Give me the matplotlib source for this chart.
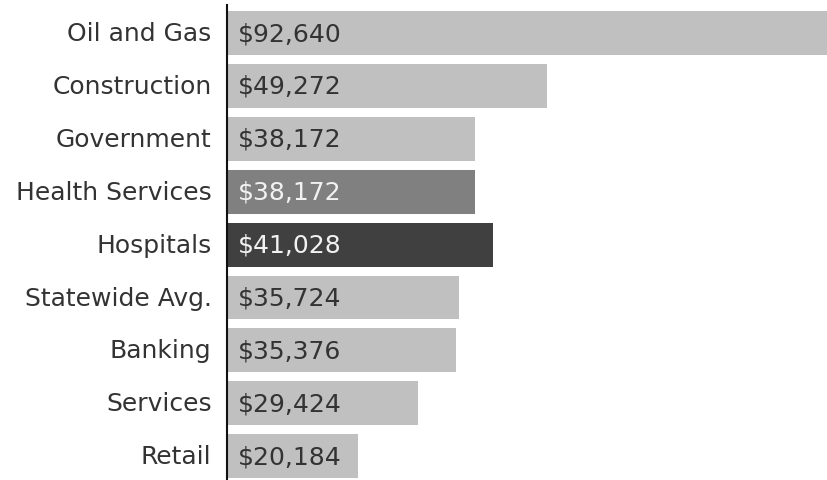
import matplotlib.pyplot as plt

categories = ["Oil and Gas", "Construction", "Government", "Health Services",
              "Hospitals", "Statewide Avg.", "Banking", "Services", "Retail"]
wages = [92640, 49272, 38172, 38172, 41028, 35724, 35376, 29424, 20184]
bar_colors = ["#c0c0c0", "#c0c0c0", "#c0c0c0", "#808080", "#404040",
              "#c0c0c0", "#c0c0c0", "#c0c0c0", "#c0c0c0"]
text_colors = ["#333333", "#333333", "#333333", "#f2f2f2", "#f2f2f2",
               "#333333", "#333333", "#333333", "#333333"]

plt.rcParams["font.family"] = "DejaVu Sans"

fig = plt.figure(figsize=(8.28, 4.81), dpi=100)
ax = fig.add_axes([0.274, 0.0, 0.726, 0.9875])

ypos = list(range(len(categories)))
ax.barh(ypos, wages, height=0.83, color=bar_colors)

for y, v, c in zip(ypos, wages, text_colors):
    ax.annotate("${:,}".format(v), xy=(0, y), xytext=(8, 0),
                textcoords="offset points", ha="left", va="center",
                fontsize=18, color=c)

ax.set_xlim(0, 92640)
ax.set_ylim(8.45, -0.53)
ax.set_yticks(ypos)
ax.set_yticklabels(categories, fontsize=18, color="#333333", va="center")
ax.tick_params(axis="y", length=0, pad=11)
ax.set_xticks([])

for side in ["top", "right", "bottom"]:
    ax.spines[side].set_visible(False)
ax.spines["left"].set_linewidth(1.5)
ax.spines["left"].set_color("#111111")

fig.savefig("out.png", dpi=100)
